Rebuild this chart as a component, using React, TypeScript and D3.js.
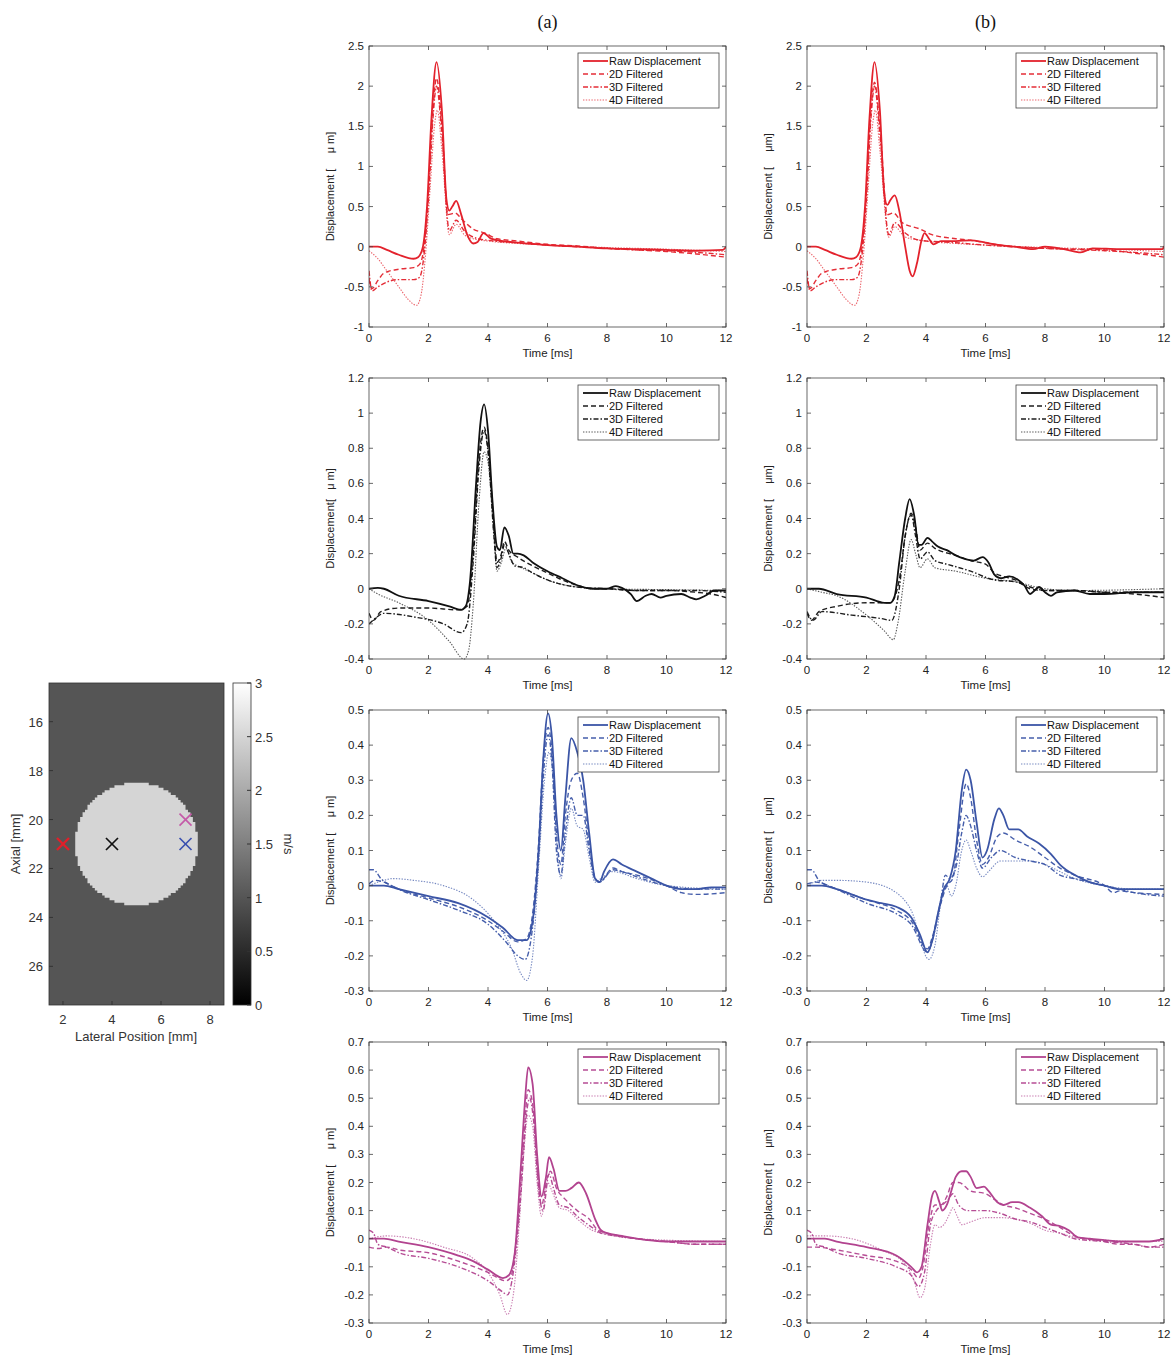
import React from 'react';
import * as d3 from 'd3';

type P = [number, number];

// ---------- data ----------
const seriesNames = ['Raw Displacement', '2D Filtered', '3D Filtered', '4D Filtered'];
const columnTitles = ['(a)', '(b)'];
const timeTicks = [0, 2, 4, 6, 8, 10, 12];
const row1Ticks = [-1, -0.5, 0, 0.5, 1, 1.5, 2, 2.5];
const row2Ticks = [-0.4, -0.2, 0, 0.2, 0.4, 0.6, 0.8, 1, 1.2];
const row3Ticks = [-0.3, -0.2, -0.1, 0, 0.1, 0.2, 0.3, 0.4, 0.5];
const row4Ticks = [-0.3, -0.2, -0.1, 0, 0.1, 0.2, 0.3, 0.4, 0.5, 0.6, 0.7];

// Row 1 (red) - column a
const r1aRaw: P[] = [[0,0],[0.3,0],[0.6,-0.04],[1,-0.1],[1.5,-0.15],[1.65,-0.13],[1.8,-0.02],[1.95,0.5],[2.1,1.6],[2.27,2.3],[2.45,1.7],[2.6,0.6],[2.7,0.45],[2.8,0.5],[2.93,0.57],[3.1,0.4],[3.3,0.15],[3.5,0.04],[3.65,0.06],[3.85,0.17],[4.1,0.1],[4.5,0.07],[5,0.05],[6,0.02],[7,0],[8,-0.02],[9,-0.03],[10,-0.04],[11,-0.05],[11.9,-0.04],[12,0]];
const r1a2D: P[] = [[0,-0.4],[0.1,-0.52],[0.3,-0.42],[0.5,-0.33],[1,-0.28],[1.5,-0.26],[1.7,-0.22],[1.85,0],[2,0.7],[2.15,1.7],[2.27,2.1],[2.45,1.5],[2.65,0.4],[2.9,0.42],[3.1,0.35],[3.5,0.22],[3.9,0.17],[4.3,0.1],[5,0.07],[6,0.03],[7,0.01],[8,-0.02],[9,-0.04],[10,-0.06],[11,-0.09],[12,-0.13]];
const r1a3D: P[] = [[0,-0.3],[0.1,-0.55],[0.3,-0.5],[0.6,-0.44],[1,-0.41],[1.5,-0.41],[1.7,-0.38],[1.85,-0.1],[2,0.6],[2.15,1.6],[2.27,2],[2.45,1.4],[2.7,0.2],[2.93,0.33],[3.2,0.2],[3.5,0.12],[4,0.08],[5,0.05],[6,0.02],[7,0],[8,-0.02],[9,-0.04],[10,-0.05],[11,-0.07],[12,-0.1]];
const r1a4D: P[] = [[0,-0.05],[0.3,-0.15],[0.6,-0.3],[1,-0.5],[1.3,-0.65],[1.6,-0.73],[1.75,-0.6],[1.9,-0.1],[2.05,0.7],[2.2,1.5],[2.3,1.7],[2.45,1.2],[2.7,0.15],[2.93,0.28],[3.2,0.15],[3.5,0.1],[4,0.07],[5,0.04],[6,0.02],[8,-0.01],[10,-0.03],[12,-0.06]];
// Row 1 (red) - column b
const r1bRaw: P[] = [[0,0],[0.3,0],[0.6,-0.04],[1,-0.1],[1.5,-0.15],[1.65,-0.13],[1.8,-0.02],[1.95,0.5],[2.1,1.6],[2.27,2.3],[2.45,1.7],[2.6,0.65],[2.7,0.52],[2.8,0.58],[2.95,0.64],[3.1,0.45],[3.3,0.0],[3.45,-0.3],[3.55,-0.37],[3.7,-0.2],[3.85,0.08],[3.95,0.17],[4.1,0.1],[4.25,0.03],[4.5,0.07],[5,0.07],[5.5,0.08],[6,0.05],[6.5,0.02],[7,0],[7.6,-0.03],[8,0],[8.5,-0.02],[9,-0.06],[9.2,-0.07],[9.6,-0.02],[10.5,-0.03],[11.5,-0.03],[11.95,-0.03],[12,0.01]];
const r1b2D: P[] = [[0,-0.4],[0.1,-0.52],[0.3,-0.42],[0.5,-0.33],[1,-0.28],[1.5,-0.26],[1.7,-0.22],[1.85,0],[2,0.7],[2.15,1.7],[2.27,2.05],[2.45,1.5],[2.7,0.4],[2.9,0.42],[3.2,0.3],[3.8,0.22],[4.2,0.15],[5,0.1],[5.5,0.08],[6.5,0.02],[8,-0.02],[10,-0.04],[11,-0.08],[12,-0.13]];
const r1b3D: P[] = [[0,-0.3],[0.1,-0.55],[0.3,-0.5],[0.6,-0.44],[1,-0.41],[1.5,-0.41],[1.7,-0.38],[1.85,-0.1],[2,0.6],[2.15,1.6],[2.27,2],[2.45,1.4],[2.75,0.15],[2.95,0.3],[3.3,0.17],[3.8,0.08],[5,0.05],[6,0.02],[8,-0.02],[10,-0.05],[11,-0.07],[12,-0.1]];
const r1b4D: P[] = [[0,-0.05],[0.3,-0.15],[0.6,-0.3],[1,-0.5],[1.3,-0.65],[1.6,-0.73],[1.75,-0.6],[1.9,-0.1],[2.05,0.7],[2.2,1.5],[2.3,1.7],[2.45,1.2],[2.75,0.12],[2.95,0.25],[3.3,0.12],[4,0.07],[5,0.04],[6,0.02],[8,-0.01],[10,-0.03],[12,-0.06]];

// Row 2 (black) - column a
const r2aRaw: P[] = [[0,0],[0.3,0.005],[0.5,0],[1,-0.04],[2,-0.07],[2.7,-0.1],[3.1,-0.12],[3.25,-0.1],[3.4,0.05],[3.6,0.6],[3.75,0.95],[3.87,1.05],[4,0.9],[4.15,0.5],[4.3,0.24],[4.4,0.22],[4.55,0.35],[4.7,0.3],[4.85,0.2],[5,0.2],[5.2,0.19],[5.5,0.15],[6,0.1],[6.5,0.06],[7,0.02],[7.5,0],[8,0],[8.3,0.015],[8.5,0.005],[8.8,-0.03],[9,-0.07],[9.3,-0.04],[9.5,-0.03],[9.8,-0.05],[10,-0.04],[10.5,-0.03],[10.8,-0.05],[11,-0.06],[11.3,-0.04],[11.6,-0.01],[12,-0.01]];
const r2a2D: P[] = [[0,-0.14],[0.15,-0.18],[0.4,-0.13],[1,-0.11],[2,-0.11],[3,-0.12],[3.3,-0.1],[3.5,0.2],[3.7,0.75],[3.87,0.92],[4,0.8],[4.2,0.35],[4.3,0.15],[4.45,0.2],[4.55,0.27],[4.7,0.22],[5,0.18],[5.5,0.13],[6,0.09],[6.5,0.05],[7,0.02],[7.5,0],[8,0],[9,-0.01],[10,-0.01],[11,-0.02],[11.5,-0.03],[12,-0.05]];
const r2a3D: P[] = [[0,-0.2],[0.2,-0.17],[0.5,-0.14],[1.5,-0.16],[2.5,-0.2],[3.1,-0.25],[3.3,-0.2],[3.5,0.15],[3.7,0.7],[3.87,0.9],[4,0.78],[4.2,0.3],[4.3,0.12],[4.45,0.18],[4.55,0.25],[4.7,0.2],[4.9,0.13],[5.2,0.12],[5.5,0.09],[6,0.05],[7,0.01],[8,0],[9,-0.01],[10,-0.01],[11,-0.01],[12,-0.02]];
const r2a4D: P[] = [[0,0],[0.3,-0.03],[1,-0.08],[2,-0.18],[2.7,-0.3],[3.2,-0.4],[3.35,-0.35],[3.5,-0.1],[3.7,0.5],[3.87,0.78],[4,0.72],[4.2,0.3],[4.3,0.1],[4.45,0.15],[4.6,0.23],[4.8,0.15],[5,0.13],[5.5,0.09],[6,0.05],[7,0.01],[8,0],[10,-0.005],[12,-0.01]];
// Row 2 (black) - column b
const r2bRaw: P[] = [[0,0],[0.4,0],[1,-0.03],[2,-0.05],[2.6,-0.08],[2.8,-0.08],[2.95,-0.04],[3.1,0.15],[3.3,0.4],[3.45,0.51],[3.6,0.42],[3.75,0.25],[3.85,0.25],[4.05,0.29],[4.2,0.27],[4.4,0.24],[4.7,0.22],[5,0.19],[5.3,0.17],[5.6,0.16],[5.9,0.18],[6.1,0.15],[6.3,0.08],[6.5,0.06],[6.8,0.07],[7.1,0.05],[7.3,0.02],[7.5,-0.03],[7.65,-0.01],[7.8,0.01],[8,-0.02],[8.2,-0.04],[8.4,-0.02],[9,-0.01],[9.5,-0.03],[10,-0.03],[11,-0.02],[11.5,-0.02],[12,-0.02]];
const r2b2D: P[] = [[0,-0.14],[0.15,-0.18],[0.4,-0.13],[1,-0.1],[2,-0.08],[2.8,-0.08],[3.1,0.05],[3.3,0.3],[3.5,0.43],[3.65,0.35],[3.8,0.22],[4.05,0.26],[4.3,0.23],[5,0.19],[5.5,0.16],[6,0.14],[6.3,0.09],[6.6,0.07],[7,0.05],[7.5,0],[8,-0.01],[9,-0.01],[10,-0.02],[11,-0.03],[12,-0.05]];
const r2b3D: P[] = [[0,-0.13],[0.2,-0.18],[0.5,-0.13],[1.5,-0.15],[2.5,-0.17],[2.85,-0.18],[3.1,0],[3.3,0.3],[3.5,0.42],[3.65,0.3],[3.8,0.17],[4.05,0.21],[4.3,0.16],[4.7,0.14],[5.5,0.1],[6.3,0.05],[7,0.04],[7.5,0.01],[8,-0.01],[9,-0.01],[10,-0.02],[12,-0.02]];
const r2b4D: P[] = [[0,0],[0.5,-0.02],[1,-0.04],[2,-0.15],[2.6,-0.24],[2.9,-0.29],[3.05,-0.2],[3.3,0.1],[3.5,0.28],[3.65,0.2],[3.8,0.12],[4.05,0.17],[4.3,0.12],[5,0.1],[6,0.06],[7,0.04],[8,0],[9,-0.01],[12,0]];

// Row 3 (blue) - column a
const r3aRaw: P[] = [[0,0],[0.5,0],[1,-0.01],[2,-0.03],[3,-0.05],[4,-0.09],[4.5,-0.12],[5,-0.155],[5.3,-0.155],[5.5,-0.1],[5.7,0.1],[5.85,0.35],[6.02,0.49],[6.15,0.42],[6.3,0.2],[6.45,0.1],[6.6,0.25],[6.8,0.42],[7,0.38],[7.2,0.3],[7.4,0.15],[7.6,0.02],[7.75,0.01],[7.9,0.04],[8.2,0.075],[8.5,0.06],[9,0.04],[9.5,0.02],[10,0],[10.5,-0.01],[11,-0.01],[11.5,-0.005],[12,-0.005]];
const r3a2D: P[] = [[0,0.005],[0.2,0.015],[0.5,0.01],[1,-0.01],[2,-0.035],[3,-0.06],[4,-0.1],[4.5,-0.13],[5,-0.16],[5.3,-0.15],[5.5,-0.08],[5.7,0.12],[5.85,0.35],[6.02,0.45],[6.15,0.38],[6.3,0.15],[6.45,0.06],[6.6,0.2],[6.8,0.3],[7,0.32],[7.2,0.25],[7.4,0.12],[7.6,0.02],[7.75,0.01],[8.2,0.05],[8.5,0.04],[9,0.03],[10,0],[10.5,-0.02],[11,-0.025],[12,-0.02]];
const r3a3D: P[] = [[0,0.045],[0.15,0.045],[0.4,0.02],[1,-0.01],[2,-0.04],[3,-0.07],[4,-0.11],[4.6,-0.16],[5,-0.2],[5.25,-0.21],[5.45,-0.15],[5.7,0.08],[5.85,0.3],[6.02,0.43],[6.15,0.35],[6.3,0.1],[6.45,0.03],[6.6,0.15],[6.8,0.25],[7,0.2],[7.2,0.2],[7.4,0.1],[7.6,0.02],[7.75,0.01],[8.2,0.045],[8.5,0.04],[9,0.025],[10,0],[11,-0.01],[12,-0.01]];
const r3a4D: P[] = [[0,0],[0.5,0.015],[0.8,0.02],[1.5,0.015],[2.5,0],[3.5,-0.04],[4.2,-0.1],[4.8,-0.18],[5.1,-0.25],[5.3,-0.27],[5.5,-0.2],[5.7,0.05],[5.9,0.3],[6.05,0.38],[6.2,0.3],[6.35,0.08],[6.45,0.02],[6.6,0.12],[6.8,0.22],[7,0.17],[7.2,0.16],[7.4,0.08],[7.6,0.01],[7.8,0.02],[8.2,0.04],[9,0.02],[10,0],[12,-0.01]];
// Row 3 (blue) - column b
const r3bRaw: P[] = [[0,0],[0.5,0],[1,-0.01],[2,-0.04],[2.5,-0.05],[3,-0.06],[3.5,-0.09],[3.8,-0.14],[4.05,-0.19],[4.2,-0.16],[4.4,-0.08],[4.6,-0.01],[4.8,0.02],[5,0.1],[5.2,0.27],[5.35,0.33],[5.5,0.3],[5.7,0.18],[5.9,0.08],[6.05,0.1],[6.3,0.19],[6.45,0.22],[6.6,0.2],[6.8,0.16],[7.1,0.16],[7.4,0.14],[7.8,0.12],[8.2,0.09],[8.5,0.06],[9,0.03],[9.5,0.01],[10,0],[10.5,-0.01],[11,-0.01],[12,-0.01]];
const r3b2D: P[] = [[0,0.005],[0.3,0.01],[1,-0.01],[2,-0.04],[3,-0.07],[3.5,-0.1],[4.05,-0.18],[4.2,-0.15],[4.5,-0.05],[4.7,0],[4.9,0.02],[5.1,0.15],[5.35,0.29],[5.5,0.25],[5.7,0.13],[5.9,0.06],[6.1,0.08],[6.4,0.14],[6.6,0.15],[7,0.13],[7.5,0.11],[8,0.08],[8.5,0.05],[9,0.03],[10,0],[10.3,-0.02],[10.5,-0.015],[11,-0.02],[12,-0.025]];
const r3b3D: P[] = [[0,0.045],[0.15,0.045],[0.4,0.015],[1,-0.01],[2,-0.05],[3,-0.08],[3.5,-0.11],[4.05,-0.19],[4.2,-0.16],[4.5,-0.04],[4.65,0.03],[4.8,0.02],[5,0.05],[5.2,0.15],[5.35,0.2],[5.5,0.17],[5.7,0.1],[5.9,0.05],[6.2,0.08],[6.5,0.1],[7,0.08],[7.5,0.07],[8,0.06],[8.5,0.03],[9,0.02],[10,0],[10.5,-0.01],[11,-0.02],[12,-0.03]];
const r3b4D: P[] = [[0,0],[0.5,0.015],[1,0.015],[2,0.01],[3,-0.02],[3.5,-0.07],[4.1,-0.21],[4.3,-0.17],[4.5,-0.05],[4.7,0],[4.85,-0.03],[5,0],[5.2,0.1],[5.35,0.13],[5.5,0.1],[5.7,0.05],[5.9,0.025],[6.1,0.04],[6.5,0.07],[7,0.07],[7.5,0.07],[8,0.06],[8.5,0.04],[9,0.02],[10,0],[11,-0.01],[12,-0.01]];

// Row 4 (magenta) - column a
const r4aRaw: P[] = [[0,0],[0.5,0],[1,-0.01],[2,-0.03],[3,-0.06],[3.5,-0.08],[4,-0.11],[4.5,-0.14],[4.7,-0.13],[4.9,-0.05],[5.1,0.25],[5.25,0.5],[5.35,0.61],[5.5,0.55],[5.65,0.3],[5.8,0.15],[5.95,0.22],[6.05,0.29],[6.2,0.25],[6.4,0.17],[6.6,0.17],[6.8,0.18],[7.05,0.2],[7.3,0.16],[7.6,0.07],[7.8,0.03],[8,0.02],[8.5,0.01],[9,0],[10,-0.01],[11,-0.01],[12,-0.01]];
const r4a2D: P[] = [[0,-0.03],[0.3,-0.035],[0.6,-0.03],[1,-0.04],[2,-0.05],[3,-0.08],[4,-0.12],[4.6,-0.15],[4.75,-0.14],[5,0.05],[5.2,0.35],[5.35,0.53],[5.5,0.48],[5.65,0.25],[5.8,0.12],[6,0.22],[6.1,0.24],[6.3,0.18],[6.6,0.14],[7,0.1],[7.4,0.07],[7.7,0.03],[8,0.02],[9,0],[10,-0.01],[11,-0.02],[12,-0.02]];
const r4a3D: P[] = [[0,0.03],[0.15,0.02],[0.3,-0.02],[0.6,-0.03],[1,-0.05],[2,-0.07],[3,-0.1],[4,-0.15],[4.5,-0.19],[4.65,-0.2],[4.85,-0.12],[5.1,0.15],[5.3,0.45],[5.4,0.5],[5.55,0.4],[5.7,0.18],[5.85,0.1],[6.05,0.23],[6.2,0.18],[6.4,0.12],[6.7,0.11],[7,0.08],[7.5,0.04],[7.8,0.02],[8,0.015],[9,0],[10,-0.01],[11,-0.02],[12,-0.02]];
const r4a4D: P[] = [[0,0],[0.6,0.01],[1.5,0],[2.5,-0.03],[3.5,-0.07],[4,-0.12],[4.4,-0.2],[4.65,-0.27],[4.85,-0.2],[5.05,0.05],[5.2,0.3],[5.35,0.44],[5.5,0.4],[5.65,0.2],[5.8,0.08],[6,0.2],[6.15,0.17],[6.4,0.11],[6.7,0.1],[7,0.07],[7.5,0.03],[8,0.015],[9,0],[12,-0.01]];
// Row 4 (magenta) - column b
const r4bRaw: P[] = [[0,0],[0.6,0],[1,-0.01],[2,-0.03],[3,-0.06],[3.5,-0.1],[3.7,-0.12],[3.85,-0.1],[4.05,0.05],[4.2,0.15],[4.3,0.17],[4.45,0.13],[4.55,0.1],[4.7,0.12],[4.85,0.17],[5,0.22],[5.2,0.24],[5.35,0.24],[5.5,0.22],[5.7,0.18],[5.95,0.185],[6.1,0.17],[6.4,0.13],[6.6,0.12],[6.9,0.13],[7.1,0.13],[7.5,0.11],[7.9,0.08],[8.2,0.05],[8.5,0.045],[8.8,0.03],[9.1,0.005],[9.5,0],[10,-0.005],[10.5,-0.01],[11,-0.01],[11.5,-0.01],[12,0]];
const r4b2D: P[] = [[0,-0.03],[0.3,-0.03],[1,-0.04],[2,-0.06],[3,-0.08],[3.5,-0.11],[3.75,-0.14],[3.9,-0.1],[4.1,0.05],[4.3,0.12],[4.5,0.12],[4.7,0.15],[4.9,0.2],[5.1,0.2],[5.5,0.17],[6,0.16],[6.3,0.14],[6.6,0.12],[7,0.11],[7.5,0.09],[8,0.07],[8.5,0.04],[9,0.01],[10,-0.01],[10.5,-0.02],[11,-0.02],[11.5,-0.03],[12,-0.02]];
const r4b3D: P[] = [[0,0.03],[0.15,0.02],[0.3,-0.02],[0.6,-0.03],[1,-0.05],[2,-0.07],[3,-0.1],[3.5,-0.13],[3.75,-0.17],[3.95,-0.12],[4.15,0.05],[4.35,0.1],[4.55,0.12],[4.75,0.14],[4.9,0.16],[5.1,0.12],[5.4,0.1],[6,0.1],[6.5,0.09],[7,0.07],[7.5,0.06],[8,0.04],[8.5,0.02],[9,0],[10,-0.01],[11,-0.02],[11.5,-0.03],[12,-0.03]];
const r4b4D: P[] = [[0,0.01],[0.6,0.01],[1.5,0],[2.5,-0.04],[3.3,-0.09],[3.6,-0.15],[3.8,-0.21],[3.95,-0.18],[4.15,-0.02],[4.3,0.05],[4.45,0.04],[4.6,0.05],[4.8,0.09],[4.9,0.11],[5.05,0.08],[5.2,0.05],[5.5,0.06],[6,0.075],[6.5,0.075],[7,0.07],[7.5,0.055],[8,0.03],[8.5,0.02],[9,0.005],[10,-0.005],[11,-0.01],[12,-0.01]];

// Heat map (shear wave speed map)
const lateralTicks = [2, 4, 6, 8];
const axialTicks = [16, 18, 20, 22, 24, 26];
const speedTicks = [0, 0.5, 1, 1.5, 2, 2.5, 3];
const backgroundSpeed = 1;
const inclusionSpeed = 2.5;
const inclusionCenter = [5, 21];
const inclusionRadius = 2.5;
const markerLateral = [2, 4, 7, 7];
const markerAxial = [21, 21, 20, 21];

// ---------- styles / layout ----------
const rowColors = ['#e3222c', '#111111', '#3b55a6', '#b2438f'];
const markerColors = ['#e0202a', '#111111', '#c45aa8', '#3a50b0'];
const dashes = [null, '5,3', '5,2,1.5,2', '1.4,1.4'];
const widths = [1.8, 1.4, 1.4, 1.1];
const opac = [1, 0.95, 0.95, 0.7];

const colLeft = [369, 807];
const plotW = 357;
const rowTop = [46, 378, 710, 1042];
const plotH = 281;

const rows = [
  { domain: [-1, 2.5], ticks: row1Ticks, a: [r1aRaw, r1a2D, r1a3D, r1a4D], b: [r1bRaw, r1b2D, r1b3D, r1b4D], labA: 'Displacement [     μ m]' },
  { domain: [-0.4, 1.2], ticks: row2Ticks, a: [r2aRaw, r2a2D, r2a3D, r2a4D], b: [r2bRaw, r2b2D, r2b3D, r2b4D], labA: 'Displacement[   μ m]' },
  { domain: [-0.3, 0.5], ticks: row3Ticks, a: [r3aRaw, r3a2D, r3a3D, r3a4D], b: [r3bRaw, r3b2D, r3b3D, r3b4D], labA: 'Displacement [     μ m]' },
  { domain: [-0.3, 0.7], ticks: row4Ticks, a: [r4aRaw, r4a2D, r4a3D, r4a4D], b: [r4bRaw, r4b2D, r4b3D, r4b4D], labA: 'Displacement [     μ m]' },
];

const sans = 'Liberation Sans, Arial, Helvetica, sans-serif';
const axisColor = '#444';

function Panel({ x0, y0, domain, ticks, series, color, ylab }: any) {
  const xs = d3.scaleLinear().domain([0, 12]).range([x0, x0 + plotW]);
  const ys = d3.scaleLinear().domain(domain).range([y0 + plotH, y0]);
  const line = d3.line<P>().x(d => xs(d[0])).y(d => ys(d[1])).curve(d3.curveMonotoneX);
  const clipId = `clip-${x0}-${y0}`;
  const lgX = x0 + plotW - 148;
  const lgY = y0 + 7;
  return (
    <g>
      <defs>
        <clipPath id={clipId}>
          <rect x={x0} y={y0 - 2} width={plotW} height={plotH + 4} />
        </clipPath>
      </defs>
      <rect x={x0} y={y0} width={plotW} height={plotH} fill="#fff" />
      <g clipPath={`url(#${clipId})`}>
        {series.map((s: P[], i: number) => (
          <path key={i} d={line(s) || ''} fill="none" stroke={color} strokeWidth={widths[i]}
            strokeDasharray={dashes[i] || undefined} strokeOpacity={opac[i]} strokeLinejoin="round" />
        ))}
      </g>
      <rect x={x0} y={y0} width={plotW} height={plotH} fill="none" stroke={axisColor} strokeWidth={0.8} />
      {timeTicks.map(t => (
        <g key={'xt' + t}>
          <line x1={xs(t)} x2={xs(t)} y1={y0 + plotH} y2={y0 + plotH - 4} stroke={axisColor} strokeWidth={0.8} />
          <line x1={xs(t)} x2={xs(t)} y1={y0} y2={y0 + 4} stroke={axisColor} strokeWidth={0.8} />
          <text x={xs(t)} y={y0 + plotH + 15} textAnchor="middle" fontSize={11.5} fontFamily={sans} fill="#222">{t}</text>
        </g>
      ))}
      {ticks.map((v: number) => (
        <g key={'yt' + v}>
          <line x1={x0} x2={x0 + 4} y1={ys(v)} y2={ys(v)} stroke={axisColor} strokeWidth={0.8} />
          <line x1={x0 + plotW} x2={x0 + plotW - 4} y1={ys(v)} y2={ys(v)} stroke={axisColor} strokeWidth={0.8} />
          <text x={x0 - 5} y={ys(v) + 4} textAnchor="end" fontSize={11.5} fontFamily={sans} fill="#222">{String(v)}</text>
        </g>
      ))}
      <text x={x0 + plotW / 2} y={y0 + plotH + 30} textAnchor="middle" fontSize={11.5} fontFamily={sans} fill="#222">Time [ms]</text>
      <text transform={`translate(${x0 - 35},${y0 + plotH / 2}) rotate(-90)`} textAnchor="middle" fontSize={11}
        fontFamily={sans} fill="#222" style={{ whiteSpace: 'pre' }}>{ylab}</text>
      <rect x={lgX} y={lgY} width={141} height={55} fill="#fff" stroke={axisColor} strokeWidth={0.8} />
      {seriesNames.map((n, i) => (
        <g key={n}>
          <line x1={lgX + 5} x2={lgX + 30} y1={lgY + 8 + i * 13} y2={lgY + 8 + i * 13} stroke={color}
            strokeWidth={widths[i]} strokeDasharray={dashes[i] || undefined} strokeOpacity={opac[i]} />
          <text x={lgX + 31} y={lgY + 12 + i * 13} fontSize={11} fontFamily={sans} fill="#111">{n}</text>
        </g>
      ))}
    </g>
  );
}

function HeatMap() {
  const hx = d3.scaleLinear().domain([1.43, 8.57]).range([49, 224]);
  const hy = d3.scaleLinear().domain([14.42, 27.58]).range([683, 1005]);
  const gray = d3.scaleLinear<string>().domain([0, 3]).range(['#000000', '#ffffff']);
  const cell = 0.1;
  const nRows = Math.round((2 * inclusionRadius) / cell);
  const cells = d3.range(nRows).map(k => {
    const yc = inclusionCenter[1] - inclusionRadius + (k + 0.5) * cell;
    const dy = yc - inclusionCenter[1];
    const hw = Math.floor(Math.sqrt(Math.max(0, inclusionRadius * inclusionRadius - dy * dy)) / cell + 0.5) * cell;
    return { y: yc - cell / 2, x1: inclusionCenter[0] - hw, x2: inclusionCenter[0] + hw };
  });
  // single outline path of the stair-stepped inclusion (right side down, left side up)
  const right = cells.map(c => `L${hx(c.x2)},${hy(c.y)}L${hx(c.x2)},${hy(c.y + cell)}`).join('');
  const left = cells.slice().reverse().map(c => `L${hx(c.x1)},${hy(c.y + cell)}L${hx(c.x1)},${hy(c.y)}`).join('');
  const inclusionPath = `M${hx(cells[0].x1)},${hy(cells[0].y)}${right}${left}Z`;
  const cb = d3.scaleLinear().domain([0, 3]).range([1005, 683]);
  return (
    <g>
      <defs>
        <linearGradient id="cbgrad" x1="0" y1="1" x2="0" y2="0">
          <stop offset="0" stopColor={gray(0)} />
          <stop offset="1" stopColor={gray(3)} />
        </linearGradient>
      </defs>
      <rect x={49} y={683} width={175} height={322} fill={gray(backgroundSpeed)} />
      <path d={inclusionPath} fill={gray(inclusionSpeed)} />
      <rect x={49} y={683} width={175} height={322} fill="none" stroke="#333" strokeWidth={0.8} />
      {lateralTicks.map(t => (
        <g key={'lx' + t}>
          <line x1={hx(t)} x2={hx(t)} y1={1005} y2={1001} stroke="#333" />
          <text x={hx(t)} y={1024} textAnchor="middle" fontSize={13} fontFamily={sans} fill="#333">{t}</text>
        </g>
      ))}
      {axialTicks.map(t => (
        <g key={'ay' + t}>
          <line x1={49} x2={53} y1={hy(t)} y2={hy(t)} stroke="#333" />
          <text x={43} y={hy(t) + 5} textAnchor="end" fontSize={13} fontFamily={sans} fill="#333">{t}</text>
        </g>
      ))}
      <text x={136} y={1041} textAnchor="middle" fontSize={13} fontFamily={sans} fill="#333">Lateral Position [mm]</text>
      <text transform={`translate(20,${hy(21)}) rotate(-90)`} textAnchor="middle" fontSize={13} fontFamily={sans} fill="#333">Axial [mm]</text>
      {markerLateral.map((mx, i) => {
        const cx = hx(mx), cy = hy(markerAxial[i]), s = 6;
        return (
          <g key={'m' + i} stroke={markerColors[i]} strokeWidth={i === 0 ? 2.4 : 1.7}>
            <line x1={cx - s} y1={cy - s} x2={cx + s} y2={cy + s} />
            <line x1={cx - s} y1={cy + s} x2={cx + s} y2={cy - s} />
          </g>
        );
      })}
      <rect x={233} y={683} width={18} height={322} fill="url(#cbgrad)" stroke="#333" strokeWidth={0.8} />
      {speedTicks.map(v => (
        <g key={'cb' + v}>
          <line x1={251} x2={247} y1={cb(v)} y2={cb(v)} stroke="#333" />
          <text x={255} y={cb(v) + 5} fontSize={13} fontFamily={sans} fill="#333">{String(v)}</text>
        </g>
      ))}
      <text transform={`translate(284,${hy(21)}) rotate(90)`} textAnchor="middle" fontSize={13} fontFamily={sans} fill="#333">m/s</text>
    </g>
  );
}

export default function App() {
  return (
    <svg width={1173} height={1357} style={{ position: 'absolute', left: 0, top: 0, background: '#fff' }}>
      <rect width={1173} height={1357} fill="#fff" />
      {columnTitles.map((t, c) => (
        <text key={t} x={colLeft[c] + plotW / 2} y={28} textAnchor="middle" fontSize={18}
          fontFamily="Liberation Serif, Times New Roman, serif" fill="#111">{t}</text>
      ))}
      {rows.map((r, ri) => (
        <g key={ri}>
          <Panel x0={colLeft[0]} y0={rowTop[ri]} domain={r.domain} ticks={r.ticks} series={r.a} color={rowColors[ri]} ylab={r.labA} />
          <Panel x0={colLeft[1]} y0={rowTop[ri]} domain={r.domain} ticks={r.ticks} series={r.b} color={rowColors[ri]} ylab={'Displacement [     μm]'} />
        </g>
      ))}
      <HeatMap />
    </svg>
  );
}
